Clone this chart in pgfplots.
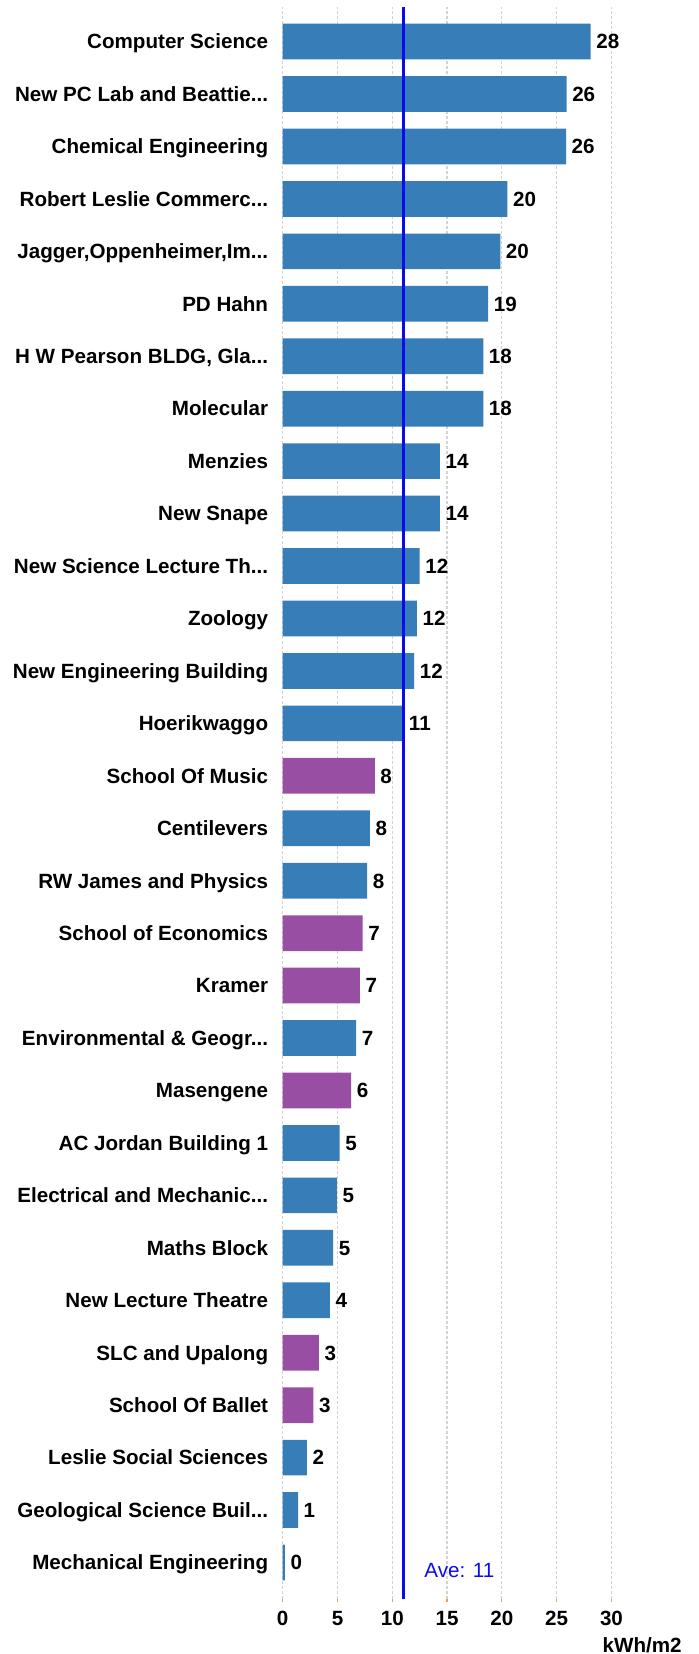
\documentclass[border=0pt]{standalone}
\usepackage{fontspec}
\setmainfont{Liberation Sans}
\usepackage{pgfplots}
\pgfplotsset{compat=1.18}
\definecolor{barblue}{HTML}{377EB8}
\definecolor{barpurple}{HTML}{984EA3}
\definecolor{gridc}{HTML}{D2D2D2}
\definecolor{tickc}{HTML}{F0A050}
\definecolor{avec}{HTML}{0A0AF0}
\newcommand\el{.{}.{}.}

\begin{document}
\begin{tikzpicture}[font=\fontsize{10.3}{12}\selectfont\bfseries]
\path[use as bounding box] (0,0) rectangle (349.5pt,827pt);
\begin{axis}[
  at={(141.35pt,27.5pt)}, anchor=south west,
  scale only axis, width=164.4pt, height=795.85pt,
  xmin=0, xmax=30, ymin=-0.696, ymax=29.654,
  clip=false,
  axis line style={draw=none},
  xtick={0,5,10,15,20,25,30}, xtick pos=bottom,
  major tick length=1.5pt, tick align=outside,
  xtick style={tickc, line width=0.6pt},
  ytick={0,1,2,3,4,5,6,7,8,9,10,11,12,13,14,15,16,17,18,19,20,21,22,23,24,25,26,27,28,29},
  ytick style={draw=none},
  yticklabels={{Mechanical Engineering},{Geological Science Buil\el},{Leslie Social Sciences},{School Of Ballet},{SLC and Upalong},{New Lecture Theatre},{Maths Block},{Electrical and Mechanic\el},{AC Jordan Building 1},{Masengene},{Environmental \& Geogr\el},{Kramer},{School of Economics},{RW James and Physics},{Centilevers},{School Of Music},{Hoerikwaggo},{New Engineering Building},{Zoology},{New Science Lecture Th\el},{New Snape},{Menzies},{Molecular},{H W Pearson BLDG, Gla\el},{PD Hahn},{Jagger,Oppenheimer,Im\el},{Robert Leslie Commerc\el},{Chemical Engineering},{New PC Lab and Beattie\el},{Computer Science}},
  yticklabel style={anchor=base east, inner sep=0pt, xshift=-5.6pt, yshift=-3.65pt},
  xticklabel style={anchor=north, inner sep=0pt, yshift=-4.3pt},
  /pgf/number format/assume math mode=true,
  xmajorgrids, grid style={gridc, dash pattern=on 1.5pt off 1pt, line width=0.6pt},
  xlabel={kWh/m2},
  xlabel style={at={(axis description cs:1.2144,-0.0289)}, anchor=east, inner sep=0pt},
  every node near coord/.append style={anchor=base west, inner sep=0pt, xshift=2.65pt, yshift=-3.65pt, text=black},
]
\addplot[xbar, bar width=17.85pt, bar shift=0pt, fill=barblue, draw=none,
  point meta=explicit symbolic, nodes near coords] coordinates {
  (28.1,29) [28] (25.9,28) [26] (25.85,27) [26] (20.5,26) [20] (19.85,25) [20]
  (18.75,24) [19] (18.3,23) [18] (18.3,22) [18] (14.35,21) [14] (14.35,20) [14]
  (12.5,19) [12] (12.25,18) [12] (12.0,17) [12] (11.0,16) [11]
  (7.95,14) [8] (7.7,13) [8] (6.7,10) [7] (5.2,8) [5] (4.95,7) [5]
  (4.6,6) [5] (4.3,5) [4] (2.2,2) [2] (1.4,1) [1] (0.2,0) [0]
};
\addplot[xbar, bar width=17.85pt, bar shift=0pt, fill=barpurple, draw=none,
  point meta=explicit symbolic, nodes near coords] coordinates {
  (8.4,15) [8] (7.3,12) [7] (7.05,11) [7] (6.25,9) [6] (3.3,4) [3] (2.8,3) [3]
};
\addplot[avec, line width=1.3pt, no marks] coordinates {(11,-0.696) (11,29.654)};
\node[avec, anchor=west, inner sep=0pt, font=\fontsize{10.3}{12}\selectfont\mdseries] at (axis cs:12.9,-0.162) {Ave: 11};
\end{axis}
\end{tikzpicture}
\end{document}
